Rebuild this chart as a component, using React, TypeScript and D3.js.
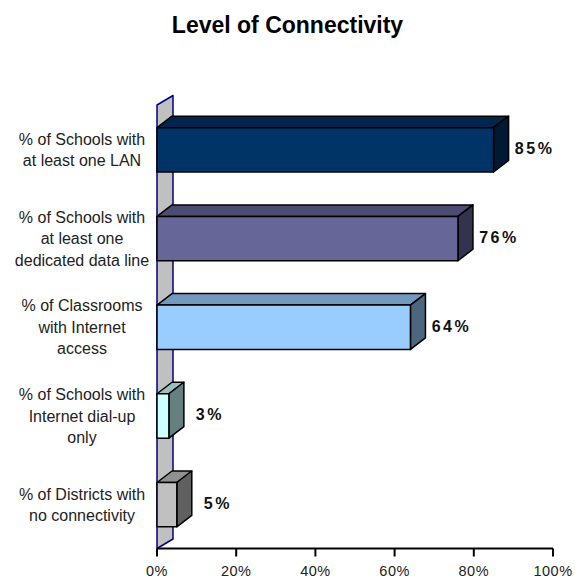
import React from "react";
import * as d3 from "d3";

const title = "Level of Connectivity";
const categoryLines: string[][] = [
  ["% of Schools with", "at least one LAN"],
  ["% of Schools with", "at least one", "dedicated data line"],
  ["% of Classrooms", "with Internet", "access"],
  ["% of Schools with", "Internet dial-up", "only"],
  ["% of Districts with", "no connectivity"],
];
const values = [0.85, 0.76, 0.64, 0.03, 0.05];
const barColors = ["#003366", "#666699", "#99CCFF", "#CCFFFF", "#C0C0C0"];
const ticks = [0, 0.2, 0.4, 0.6, 0.8, 1.0];

const W = 575;
const H = 580;
const X0 = 157;
const X1 = 553;
const AXIS_Y = 548.5;
const BAR_DX = 15;
const BAR_DY = -11.5;
const WALL_DX = 16;
const WALL_DY = -9.5;

function shade(c: string, k: number): string {
  const col = d3.rgb(c);
  return d3.rgb(col.r * k, col.g * k, col.b * k).formatHex();
}

export default function App() {
  const x = d3.scaleLinear().domain([0, 1]).range([X0, X1]);
  const keys = categoryLines.map((l) => l.join(" "));
  const y = d3
    .scaleBand<string>()
    .domain(keys)
    .range([105.5, 549])
    .paddingInner(0.5)
    .paddingOuter(0.25);
  const bw = y.bandwidth();
  const fmt = d3.format(".0%");
  const wallTop = 105;

  return (
    <svg
      width={W}
      height={H}
      style={{ position: "absolute", left: 0, top: 0, background: "#fff" }}
    >
      <text
        x={W / 2}
        y={33.3}
        textAnchor="middle"
        fontFamily="Liberation Sans, Arial, sans-serif"
        fontWeight="bold"
        fontSize={23}
        fill="#000"
      >
        {title}
      </text>

      {/* back wall */}
      <polygon
        points={[
          [X0, AXIS_Y],
          [X0, wallTop],
          [X0 + WALL_DX, wallTop + WALL_DY],
          [X0 + WALL_DX, AXIS_Y + WALL_DY],
        ]
          .map((p) => p.join(","))
          .join(" ")}
        fill="#C0C0C0"
        stroke="#000080"
        strokeWidth={1.5}
        strokeLinejoin="round"
      />

      {/* bars */}
      {values.map((v, i) => {
        const y0 = y(keys[i]) as number;
        const xs = x(0);
        const xe = x(v);
        const c = barColors[i];
        const top = [
          [xs, y0],
          [xs + BAR_DX, y0 + BAR_DY],
          [xe + BAR_DX, y0 + BAR_DY],
          [xe, y0],
        ];
        const side = [
          [xe, y0],
          [xe + BAR_DX, y0 + BAR_DY],
          [xe + BAR_DX, y0 + bw + BAR_DY],
          [xe, y0 + bw],
        ];
        const pts = (a: number[][]) => a.map((p) => p.join(",")).join(" ");
        return (
          <g key={i} stroke="#000" strokeWidth={1.5} strokeLinejoin="round">
            <polygon points={pts(top)} fill={shade(c, 0.75)} />
            <polygon points={pts(side)} fill={shade(c, 0.5)} />
            <rect x={xs} y={y0} width={xe - xs} height={bw} fill={c} />
          </g>
        );
      })}

      {/* value labels */}
      {values.map((v, i) => {
        const cy = (y(keys[i]) as number) + bw / 2;
        return (
          <text
            key={"v" + i}
            x={x(v) + BAR_DX + 26}
            y={cy + 4.5}
            textAnchor="middle"
            fontFamily="Liberation Sans, Arial, sans-serif"
            fontWeight="bold"
            fontSize={16}
            letterSpacing={2.5}
            fill="#111"
          >
            {fmt(v)}
          </text>
        );
      })}

      {/* category labels */}
      {categoryLines.map((lines, i) => {
        const cy = (y(keys[i]) as number) + bw / 2;
        const lh = 21.5;
        return (
          <text
            key={"c" + i}
            textAnchor="middle"
            fontFamily="Liberation Sans, Arial, sans-serif"
            fontSize={16}
            fill="#222"
          >
            {lines.map((ln, j) => (
              <tspan key={j} x={82} y={cy + (j - (lines.length - 1) / 2) * lh + 5.7}>
                {ln}
              </tspan>
            ))}
          </text>
        );
      })}

      {/* x axis */}
      <line x1={X0} x2={X1} y1={AXIS_Y} y2={AXIS_Y} stroke="#000" strokeWidth={2} />
      {ticks.map((t) => (
        <g key={t}>
          <line
            x1={x(t)}
            x2={x(t)}
            y1={AXIS_Y}
            y2={AXIS_Y + 8}
            stroke="#000"
            strokeWidth={2}
          />
          <text
            x={x(t)}
            y={576}
            textAnchor="middle"
            fontFamily="Liberation Sans, Arial, sans-serif"
            fontSize={14.5}
            letterSpacing={0.5}
            fill="#222"
          >
            {fmt(t)}
          </text>
        </g>
      ))}
    </svg>
  );
}
